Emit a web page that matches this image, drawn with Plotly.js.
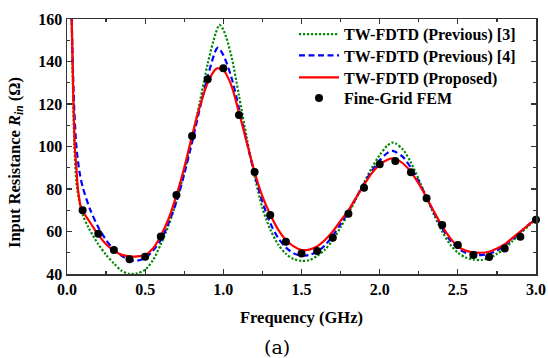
<!DOCTYPE html>
<html>
<head>
<meta charset="utf-8">
<script src="https://cdn.plot.ly/plotly-3.0.1.min.js"></script>
<style>html,body{margin:0;padding:0;background:#fff;}#chart{width:548px;height:358px;}</style>
</head>
<body>
<div id="chart"></div>
<script>
// TW-FDTD (Previous) [3] – green dotted
const prev3Freq = [0.03,0.04,0.05,0.065,0.1,0.14,0.2,0.25,0.3,0.35,0.4,0.45,0.5,0.55,0.6,0.65,0.7,0.75,0.8,0.85,0.9,0.95,0.975,1.0,1.05,1.1,1.15,1.2,1.25,1.3,1.35,1.4,1.45,1.5,1.55,1.6,1.65,1.7,1.75,1.8,1.85,1.9,1.95,2.0,2.05,2.08,2.1,2.15,2.2,2.25,2.3,2.35,2.4,2.45,2.5,2.55,2.6,2.65,2.7,2.75,2.8,2.85,2.9,2.95,3.0];
const prev3Rin  = [160,120,95,80,68,61.5,54,49,45,41.5,40,40.3,42,46.5,54,63,74,88,104,121,139,153,157.2,155,143,124,104,86,71,61,54,49.5,47,46.2,46.5,48.5,51.5,56,62,68.5,75.5,83,90,96,100.5,101.8,101.5,98.5,92.5,84.5,76,67.5,60,54,50,47.8,46.8,46.6,47.5,49.5,52,55.5,59,62.5,66];

// TW-FDTD (Previous) [4] – blue dashed
const prev4Freq = [0.03,0.045,0.06,0.08,0.1,0.15,0.2,0.25,0.3,0.35,0.4,0.45,0.5,0.55,0.6,0.65,0.7,0.75,0.8,0.85,0.9,0.95,0.965,1.0,1.05,1.1,1.15,1.2,1.25,1.3,1.35,1.4,1.45,1.5,1.55,1.6,1.65,1.7,1.75,1.8,1.85,1.9,1.95,2.0,2.05,2.08,2.1,2.15,2.2,2.25,2.3,2.35,2.4,2.45,2.5,2.55,2.6,2.65,2.7,2.75,2.8,2.85,2.9,2.95,3.0];
const prev4Rin  = [160,120,100,88,81,70,62,56,51.5,48.5,46.5,46.3,47.5,51,56,64,74,87,102,118,133,145,146.5,143,133,118,102,87,74,64,57,52.5,49.7,48.6,49,50.5,53.5,58,63.5,69.5,76,82.5,88.5,93.5,97,97.9,97.5,95,90,83.5,76,68.5,61.5,56,52,50,49,48.9,49.5,51,53.5,56.5,59.8,63,66];

// TW-FDTD (Proposed) – red solid
const propFreq = [0.03,0.04,0.05,0.06,0.07,0.09,0.1,0.15,0.2,0.25,0.3,0.35,0.4,0.45,0.5,0.55,0.6,0.65,0.7,0.75,0.8,0.85,0.9,0.95,0.96,1.0,1.05,1.1,1.15,1.2,1.25,1.3,1.35,1.4,1.45,1.5,1.55,1.6,1.65,1.7,1.75,1.8,1.85,1.9,1.95,2.0,2.05,2.08,2.1,2.15,2.2,2.25,2.3,2.35,2.4,2.45,2.5,2.55,2.6,2.65,2.7,2.75,2.8,2.85,2.9,2.95,3.0];
const propRin  = [160,125,100,90,80,71,69.5,64,58.5,54,51,49,48.3,48.3,49,52,58,66,77,90,105,119,130,136.3,136.8,136,129,116,102,88,76.5,68,61,56,53,51.3,51.5,53,56,60,65,70,76,82,87.5,91.5,93.8,94.4,94.1,92,88,82.5,76,69,62.5,57,53,51,50.2,50,50.5,52,54,57,60,63,66];

// Fine-Grid FEM – black dots
const femFreq = [0.1,0.2,0.3,0.4,0.5,0.6,0.7,0.8,0.9,1.0,1.1,1.2,1.3,1.4,1.5,1.6,1.7,1.8,1.9,2.0,2.1,2.2,2.3,2.4,2.5,2.6,2.7,2.8,2.9,3.0];
const femRin  = [70,59,51.3,46.9,48.1,57.6,77.2,105,131.6,136.8,114.8,88,67.8,55.2,49.7,50.8,57.1,68.4,80.6,91.6,93.2,87.9,75.6,63.1,53.6,49,48,52,57.5,65.5];

const seriesNames = ['TW-FDTD (Previous) [3]','TW-FDTD (Previous) [4]','TW-FDTD (Proposed)','Fine-Grid FEM'];
const xTickVals = [0,0.5,1,1.5,2,2.5,3];
const xTickText = ['0.0','0.5','1.0','1.5','2.0','2.5','3.0'];
const yTickVals = [40,60,80,100,120,140,160];

const serif = 'Liberation Serif, Times New Roman, serif';

const traces = [
  {x: prev3Freq, y: prev3Rin, name: seriesNames[0], legend: 'legend', mode: 'lines', line: {color: '#008800', width: 2.2, dash: '2.2px,1.8px', shape: 'spline', smoothing: 0.8}},
  {x: prev4Freq, y: prev4Rin, name: seriesNames[1], legend: 'legend2', mode: 'lines', line: {color: '#0000ff', width: 2.2, dash: '6px,3.5px', shape: 'spline', smoothing: 0.8}},
  {x: propFreq, y: propRin, name: seriesNames[2], legend: 'legend3', mode: 'lines', line: {color: '#ff0000', width: 2.2, shape: 'spline', smoothing: 0.8}},
  {x: femFreq, y: femRin, name: seriesNames[3], legend: 'legend4', mode: 'markers', marker: {color: '#000000', size: 8}, cliponaxis: false}
];

const axisCommon = {
  showline: true, linecolor: '#333', linewidth: 1.5, mirror: 'ticks',
  ticks: 'inside', ticklen: 5, tickwidth: 1.2, tickcolor: '#333',
  showgrid: false, zeroline: false, fixedrange: true,
  tickfont: {family: serif, size: 16, color: '#000', weight: 'bold'}
};

function legendAt(yPaper) {
  return {
    x: 0.484, y: yPaper, xanchor: 'left', yanchor: 'middle',
    bgcolor: 'rgba(0,0,0,0)', borderwidth: 0,
    font: {family: serif, size: 16, color: '#000', weight: 'bold'},
    itemwidth: 40
  };
}

const layout = {
  width: 548, height: 358,
  margin: {l: 67, r: 12, t: 19, b: 84, autoexpand: false},
  paper_bgcolor: '#fff', plot_bgcolor: '#fff',
  showlegend: true,
  legend: legendAt(0.94),
  legend2: legendAt(0.857),
  legend3: legendAt(0.771),
  legend4: legendAt(0.690),
  xaxis: Object.assign({}, axisCommon, {
    range: [0, 3], tickvals: xTickVals, ticktext: xTickText,
    minor: {dtick: 0.25, ticks: 'inside', ticklen: 3, tickcolor: '#333', tickwidth: 1.2},
    title: {text: 'Frequency (GHz)', font: {family: serif, size: 16.5, color: '#000', weight: 'bold'}, standoff: 14}
  }),
  yaxis: Object.assign({}, axisCommon, {
    range: [40, 160], tickvals: yTickVals,
    minor: {dtick: 10, ticks: 'inside', ticklen: 3, tickcolor: '#333', tickwidth: 1.2}
  }),
  annotations: [
    {text: 'Input Resistance <i>R<sub>in</sub></i> (Ω)', xref: 'paper', yref: 'paper',
     x: -0.111, y: 0.439, xanchor: 'center', yanchor: 'middle', textangle: -90, showarrow: false,
     font: {family: serif, size: 16.5, color: '#000', weight: 'bold'}},
    {text: '(a)', xref: 'paper', yref: 'paper', x: 0.447, y: -0.287, xanchor: 'center', yanchor: 'middle', showarrow: false,
     font: {family: 'DejaVu Serif, serif', size: 19, color: '#000'}}
  ]
};

Plotly.newPlot('chart', traces, layout, {displayModeBar: false, staticPlot: true});
</script>
</body>
</html>
